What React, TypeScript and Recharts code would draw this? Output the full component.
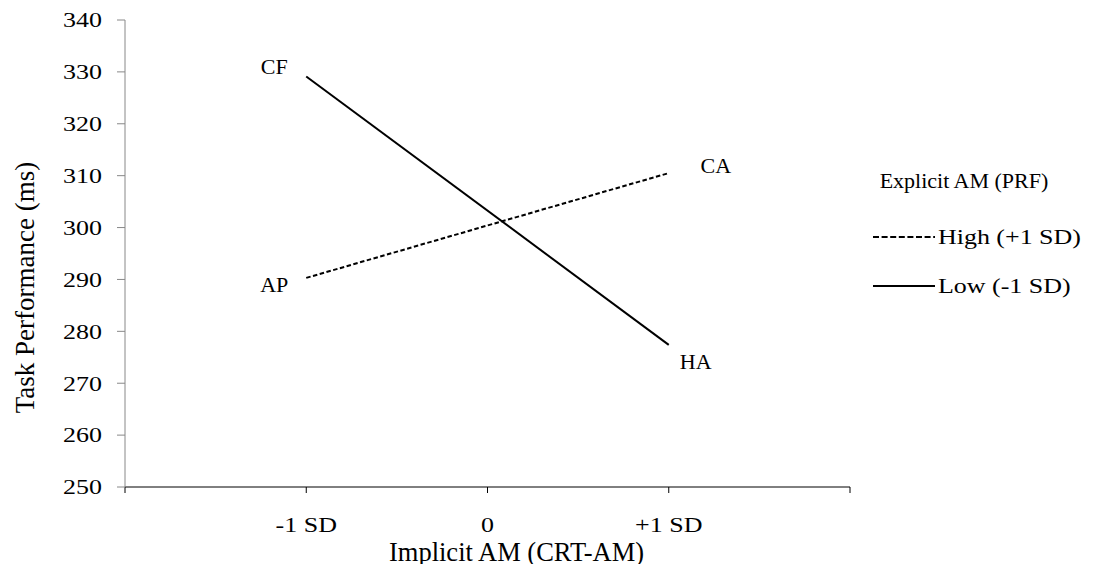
import { LineChart, Line, XAxis, YAxis, LabelList, Legend } from "recharts";

// values
const xValues = [-1, 1];
const highValues = [290.3, 310.5];
const lowValues = [329.1, 277.4];
const highLabels = ["AP", "CA"];
const lowLabels = ["CF", "HA"];

const xTicks = [-2, -1, 0, 1, 2];
const xTickLabels = ["", "-1 SD", "0", "+1 SD", ""];
const yTicks = [250, 260, 270, 280, 290, 300, 310, 320, 330, 340];

const seriesNames = ["High (+1 SD)", "Low (-1 SD)"];

const rows = xValues.map((x, i) => ({
    x,
    high: highValues[i],
    low: lowValues[i],
    highLabel: highLabels[i],
    lowLabel: lowLabels[i],
}));

const FONT = "Liberation Serif";
const STRETCH = 1.18; // the source text is a bit wide

// label offsets from each point (px)
const highOffsets = [
    { dx: -32, dy: 7 },
    { dx: 47, dy: -8 },
];
const lowOffsets = [
    { dx: -32, dy: -10 },
    { dx: 27, dy: 17 },
];

const pointLabel = (offsets: { dx: number; dy: number }[]) => (props: any) => {
    const { x, y, value, index } = props;
    const o = offsets[index] || { dx: 0, dy: 0 };
    return (
        <text
            x={x + o.dx}
            y={y + o.dy}
            textAnchor="middle"
            dominantBaseline="central"
            fontFamily={FONT}
            fontSize={22}
            fill="#000"
        >
            {value}
        </text>
    );
};

// tick text, widened a little around its anchor
const WideTick = (props: any) => {
    const { x, y, payload, textAnchor, tickFormatter, dy = 0 } = props;
    const label = tickFormatter ? tickFormatter(payload.value) : payload.value;
    return (
        <g transform={`translate(${x},${y + dy}) scale(${STRETCH},1)`}>
            <text
                x={0}
                y={0}
                textAnchor={textAnchor}
                dominantBaseline="central"
                fontFamily={FONT}
                fontSize={22}
                fill="#000"
            >
                {label}
            </text>
        </g>
    );
};

const renderLegend = () => (
    <svg width={230} height={140} fontFamily={FONT}>
        <text x={91} y={20} textAnchor="middle" dominantBaseline="central" fontSize={22} fill="#000">
            Explicit AM (PRF)
        </text>
        <line x1={0} y1={77} x2={62} y2={77} stroke="#000" strokeWidth={2} strokeDasharray="6 2.6" />
        <text
            transform={`translate(65,77) scale(${STRETCH},1)`}
            dominantBaseline="central"
            fontSize={22}
            fill="#000"
        >
            {seriesNames[0]}
        </text>
        <line x1={0} y1={126} x2={62} y2={126} stroke="#000" strokeWidth={2} />
        <text
            transform={`translate(65,126) scale(${STRETCH},1)`}
            dominantBaseline="central"
            fontSize={22}
            fill="#000"
        >
            {seriesNames[1]}
        </text>
    </svg>
);

const formatX = (v: number) => xTickLabels[xTicks.indexOf(v)];

export default function App() {
    return (
        <div style={{ marginBottom: -8 }}>
            <LineChart
                width={1085}
                height={564}
                data={rows}
                margin={{ top: 12, right: 243, bottom: 0, left: 0 }}
            >
                <XAxis
                    dataKey="x"
                    type="number"
                    domain={[-2, 2]}
                    ticks={xTicks}
                    tickFormatter={formatX}
                    height={85}
                    tickSize={6}
                    tickMargin={27}
                    stroke="#000"
                    tick={<WideTick dy={5} />}
                    label={{
                        content: (p: any) => (
                            <text
                                x={p.viewBox.x + p.viewBox.width / 2 + 29}
                                y={p.viewBox.y + 74}
                                textAnchor="middle"
                                fontFamily={FONT}
                                fontSize={26.5}
                                fill="#000"
                            >
                                Implicit AM (CRT-AM)
                            </text>
                        ),
                    }}
                />
                <YAxis
                    type="number"
                    domain={[250, 340]}
                    ticks={yTicks}
                    width={117}
                    tickSize={8}
                    tickMargin={15}
                    stroke="#888"
                    tick={<WideTick />}
                    label={{
                        content: (p: any) => {
                            const cx = 17;
                            const cy = p.viewBox.y + p.viewBox.height / 2 + 34;
                            return (
                                <text
                                    x={cx}
                                    y={cy}
                                    transform={`rotate(-90 ${cx} ${cy})`}
                                    textAnchor="middle"
                                    dominantBaseline="central"
                                    fontFamily={FONT}
                                    fontSize={27}
                                    fill="#000"
                                >
                                    Task Performance (ms)
                                </text>
                            );
                        },
                    }}
                />
                <Legend
                    layout="horizontal"
                    verticalAlign="middle"
                    align="center"
                    content={renderLegend}
                    wrapperStyle={{ left: 865, top: 152, width: 230, height: 140 }}
                />
                <Line
                    dataKey="high"
                    name={seriesNames[0]}
                    stroke="#000"
                    strokeWidth={2}
                    strokeDasharray="4.5 2.5"
                    dot={false}
                    activeDot={false}
                    isAnimationActive={false}
                >
                    <LabelList dataKey="highLabel" content={pointLabel(highOffsets)} />
                </Line>
                <Line
                    dataKey="low"
                    name={seriesNames[1]}
                    stroke="#000"
                    strokeWidth={2}
                    dot={false}
                    activeDot={false}
                    isAnimationActive={false}
                >
                    <LabelList dataKey="lowLabel" content={pointLabel(lowOffsets)} />
                </Line>
            </LineChart>
        </div>
    );
}
